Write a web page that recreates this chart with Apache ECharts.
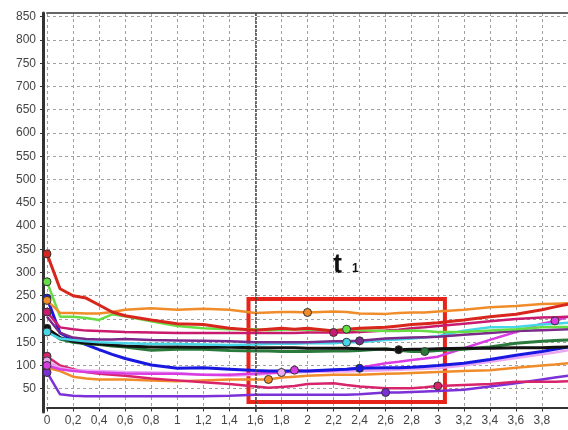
<!DOCTYPE html>
<html>
<head>
<meta charset="utf-8">
<script src="https://cdn.jsdelivr.net/npm/echarts@6/dist/echarts.min.js"></script>
<style>
html,body{margin:0;padding:0;background:#fff;}
#chart{width:568px;height:430px;}
</style>
</head>
<body>
<div id="chart"></div>
<script>
// shared x positions
const xs = [0, 0.1, 0.2, 0.3, 0.4, 0.5, 0.6, 0.8, 1.0, 1.2, 1.4, 1.6, 1.7, 1.8, 1.9, 2.0, 2.2, 2.3, 2.4, 2.6, 2.7, 2.8, 2.9, 3.0, 3.2, 3.4, 3.6, 3.8, 3.9, 4.0];

// series values
const redVals      = [340,265,250,245,230,215,207,198,190,188,180,176,178,180,178,180,174,178,180,182,185,188,190,192,198,205,210,220,226,232];
const orangeHiVals = [240,213,213,212,212,215,220,223,220,222,220,213,214,215,215,214,216,215,212,211,213,214,214,216,220,225,228,232,233,234];
const greenVals    = [280,205,205,202,198,210,206,195,185,180,178,178,176,177,178,177,176,178,176,174,174,175,174,172,172,175,178,182,183,183];
const crimsonVals  = [215,182,178,175,174,173,172,171,170,170,170,170,170,170,170,171,171,171,172,175,177,180,182,185,190,195,200,203,204,205];
const purpleVals   = [205,170,160,157,156,156,157,155,154,153,152,150,150,150,150,150,152,152,153,158,159,160,161,162,166,170,174,176,177,178];
const cyanVals     = [172,158,155,152,150,149,148,146,146,145,144,145,146,147,147,148,148,150,150,155,156,158,160,163,175,182,183,188,190,192];
const blackVals    = [180,160,152,148,146,144,142,140,140,139,139,138,138,138,138,137,137,137,136,135,134,135,135,136,137,137,138,138,139,140];
const dkGreenVals  = [176,157,150,147,145,142,140,133,135,135,132,131,131,130,130,130,131,131,132,136,133,130,130,132,135,140,148,152,154,155];
const blueVals     = [245,170,155,145,134,124,115,101,94,95,92,89,88,88,88,88,91,92,94,95,95,96,98,100,105,113,122,130,135,140];
const magentaVals  = [100,92,88,86,85,84,83,82,82,80,80,83,84,85,90,88,90,92,95,105,108,112,115,119,137,155,172,190,196,205];
const lavenderVals = [110,95,90,89,88,87,86,85,84,80,78,80,82,85,85,86,87,87,88,90,91,92,93,94,100,108,116,124,128,133];
const crimsonLoVals= [120,100,92,86,82,80,78,72,68,64,60,55,52,54,56,60,62,58,55,51,51,51,53,56,58,60,65,65,65,66];
const orangeLoVals = [95,88,76,72,70,70,70,68,66,68,70,70,70,74,76,78,80,80,80,82,83,84,85,86,88,90,95,100,102,105];
const violetVals   = [85,38,35,34,34,34,34,34,34,34,35,37,37,37,37,37,37,37,38,42,42,43,44,45,48,55,62,70,74,78];

// x positions that carry a marker, per series
const redMarks = [0];
const orangeHiMarks = [0, 2.0];
const greenMarks = [0, 2.3];
const crimsonMarks = [0, 2.2];
const purpleMarks = [2.4];
const cyanMarks = [0, 2.3];
const blackMarks = [0, 2.7];
const dkGreenMarks = [2.9];
const blueMarks = [0, 2.4];
const magentaMarks = [0, 1.9, 3.9];
const lavenderMarks = [0, 1.8];
const crimsonLoMarks = [0, 3.0];
const orangeLoMarks = [1.7];
const violetMarks = [0, 2.6];

// y and x tick labels
const yTicks = [50,100,150,200,250,300,350,400,450,500,550,600,650,700,750,800,850];
const xTicks = [0,0.2,0.4,0.6,0.8,1,1.2,1.4,1.6,1.8,2,2.2,2.4,2.6,2.8,3,3.2,3.4,3.6,3.8];

// annotations
const cursorX = 1.6;
const boxCorners = [[1.547, 243], [3.055, 21.5]];

const defs = [
  ['orangeLo', orangeLoVals, orangeLoMarks, '#f08c2a', 2.5],
  ['violet', violetVals, violetMarks, '#7b30d8', 2.5],
  ['crimsonLo', crimsonLoVals, crimsonLoMarks, '#d8246a', 2.5],
  ['lavender', lavenderVals, lavenderMarks, '#eaa6f2', 2.5],
  ['magenta', magentaVals, magentaMarks, '#d83ce2', 2.5],
  ['blue', blueVals, blueMarks, '#1818e0', 3],
  ['dkGreen', dkGreenVals, dkGreenMarks, '#2a7a3c', 3],
  ['black', blackVals, blackMarks, '#111111', 3],
  ['cyan', cyanVals, cyanMarks, '#46d6e8', 2.5],
  ['purple', purpleVals, purpleMarks, '#7a2a8a', 2.5],
  ['crimson', crimsonVals, crimsonMarks, '#c81a6e', 2.5],
  ['green', greenVals, greenMarks, '#66dd44', 2.5],
  ['orangeHi', orangeHiVals, orangeHiMarks, '#f08c2a', 2.5],
  ['red', redVals, redMarks, '#d9261c', 3]
];

const fmtX = v => String(Math.round(v * 10) / 10).replace('.', ',');

const series = defs.map(([name, vals, marks, color, w]) => ({
  name: name,
  type: 'line',
  data: xs.map((x, i) => [x, vals[i]]),
  symbol: 'circle',
  symbolSize: (val) => marks.some(m => Math.abs(m - val[0]) < 1e-6) ? 8 : 0,
  showSymbol: true,
  lineStyle: { color: color, width: w },
  itemStyle: { color: color, borderColor: '#333', borderWidth: 1 },
  silent: true,
  z: 3
}));

series.push({
  name: 'annot',
  type: 'line',
  data: [],
  silent: true,
  z: 5,
  markLine: {
    silent: true,
    symbol: ['none', 'none'],
    label: { show: false },
    lineStyle: { color: '#444', width: 1.5, type: [3, 1] },
    data: [{ xAxis: cursorX }]
  },
  markArea: {
    silent: true,
    itemStyle: { color: 'rgba(0,0,0,0)', borderColor: '#e8231a', borderWidth: 4 },
    data: [[{ coord: boxCorners[0] }, { coord: boxCorners[1] }]]
  }
});

const chart = echarts.init(document.getElementById('chart'), null, { renderer: 'canvas' });
chart.setOption({
  animation: false,
  backgroundColor: '#fff',
  textStyle: { fontFamily: 'Liberation Sans, Arial, sans-serif' },
  grid: { left: 47, top: 13, width: 522, height: 399, containLabel: false },
  xAxis: [{
    type: 'value',
    min: 0, max: 4, interval: 0.2,
    offset: -4,
    axisLine: { show: true, onZero: false, lineStyle: { color: '#333', width: 2 } },
    axisTick: { show: true, length: 3, lineStyle: { color: '#333' } },
    axisLabel: {
      margin: 7, color: '#444', fontSize: 12,
      showMaxLabel: false,
      formatter: v => xTicks.some(t => Math.abs(t - v) < 1e-6) ? fmtX(v) : ''
    },
    splitLine: { show: true, lineStyle: { color: '#a0a0a0', width: 1, type: [3, 3] } }
  }, {
    type: 'value', position: 'top',
    min: 0, max: 4,
    axisLine: { show: true, onZero: false, lineStyle: { color: '#666', width: 2 } },
    axisTick: { show: false }, axisLabel: { show: false }, splitLine: { show: false }
  }],
  yAxis: {
    type: 'value',
    min: 0, max: 858, interval: 50,
    offset: 4,
    axisLine: { show: true, onZero: false, lineStyle: { color: '#333', width: 3 } },
    axisTick: { show: true, length: 3, lineStyle: { color: '#333' } },
    axisLabel: {
      margin: 7, color: '#444', fontSize: 12,
      showMinLabel: false, showMaxLabel: false,
      formatter: v => yTicks.includes(v) ? String(v) : ''
    },
    splitLine: { show: true, showMinLine: false, showMaxLine: false, lineStyle: { color: '#a0a0a0', width: 1, type: [3, 3] } }
  },
  graphic: [
    { type: 'text', left: 333, top: 252, silent: true,
      style: { text: 't', font: 'bold 27px Liberation Sans, Arial, sans-serif', fill: '#111' } },
    { type: 'text', left: 352, top: 263, silent: true,
      style: { text: '1', font: 'bold 12px Liberation Sans, Arial, sans-serif', fill: '#111' } }
  ],
  series: series
});
</script>
</body>
</html>
